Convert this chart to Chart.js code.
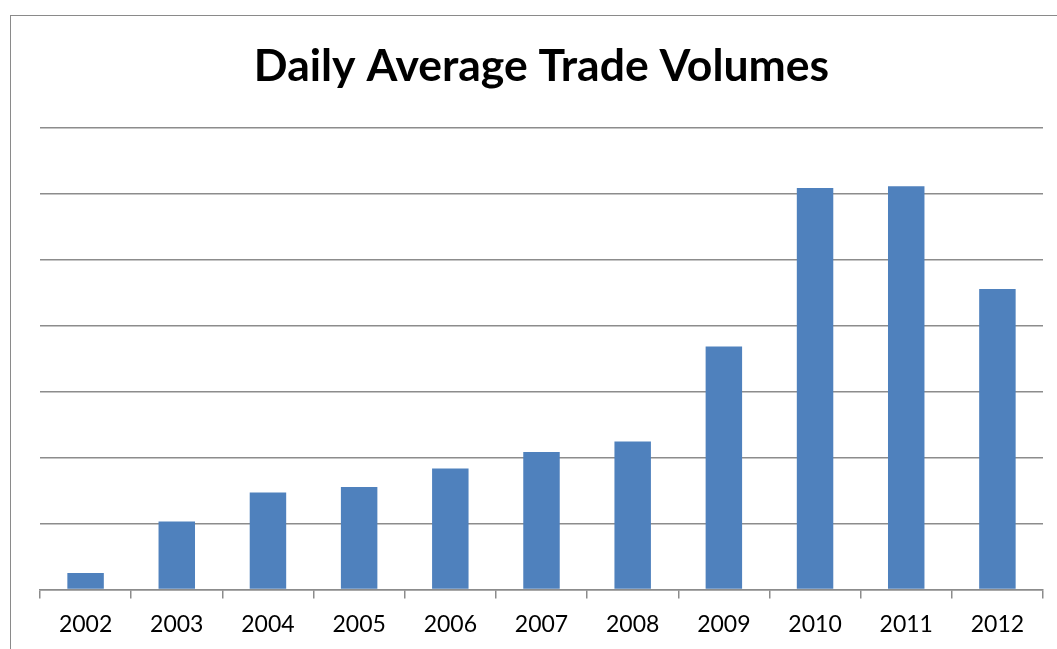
<!DOCTYPE html>
<html>
<head>
<meta charset="utf-8">
<script src="https://cdn.jsdelivr.net/npm/chart.js@4"></script>
<style>
  html, body { margin: 0; padding: 0; background: #fff; overflow: hidden; }
  #frame {
    position: absolute; left: 10px; top: 15px;
    width: 1200px; height: 800px;
    border: 1.5px solid #8a8a8a;
  }
  #wrap { position: absolute; left: 0; top: 0; width: 1057px; height: 649px; }
</style>
</head>
<body>
<div id="frame"></div>
<div id="wrap"><canvas id="volChart"></canvas></div>
<script>
// chart data
const years = ['2002', '2003', '2004', '2005', '2006', '2007', '2008', '2009', '2010', '2011', '2012'];
const volumes = [0.25, 1.03, 1.47, 1.55, 1.83, 2.08, 2.24, 3.68, 6.08, 6.11, 4.55];
const yMax = 7;

const gridGrey = '#8c8c8c';

new Chart(document.getElementById('volChart'), {
    type: 'bar',
    data: {
        labels: years,
        datasets: [{
            data: volumes,
            backgroundColor: '#4f81bd',
            borderWidth: 0,
            categoryPercentage: 1.0,
            barPercentage: 0.4
        }]
    },
    options: {
        responsive: true,
        maintainAspectRatio: false,
        animation: false,
        layout: { padding: { left: 40, right: 14, top: 0, bottom: -1 } },
        plugins: {
            legend: { display: false },
            tooltip: { enabled: false },
            title: {
                display: true,
                text: 'Daily Average Trade Volumes',
                color: '#000',
                font: { family: 'Lato', size: 44.5, weight: 'bold' },
                padding: { top: 40, bottom: 34 }
            }
        },
        scales: {
            x: {
                offset: true,
                grid: {
                    offset: true,
                    drawOnChartArea: false,
                    drawTicks: true,
                    tickLength: 9,
                    color: gridGrey,
                    lineWidth: 1.5
                },
                border: { color: gridGrey, width: 1.5 },
                ticks: {
                    color: '#000',
                    padding: 12,
                    font: { family: 'Lato', size: 23 }
                }
            },
            y: {
                min: 0,
                max: yMax,
                ticks: { display: false, stepSize: 1 },
                grid: { color: gridGrey, lineWidth: 1.5, drawTicks: false },
                border: { display: false }
            }
        }
    }
});
</script>
</body>
</html>
